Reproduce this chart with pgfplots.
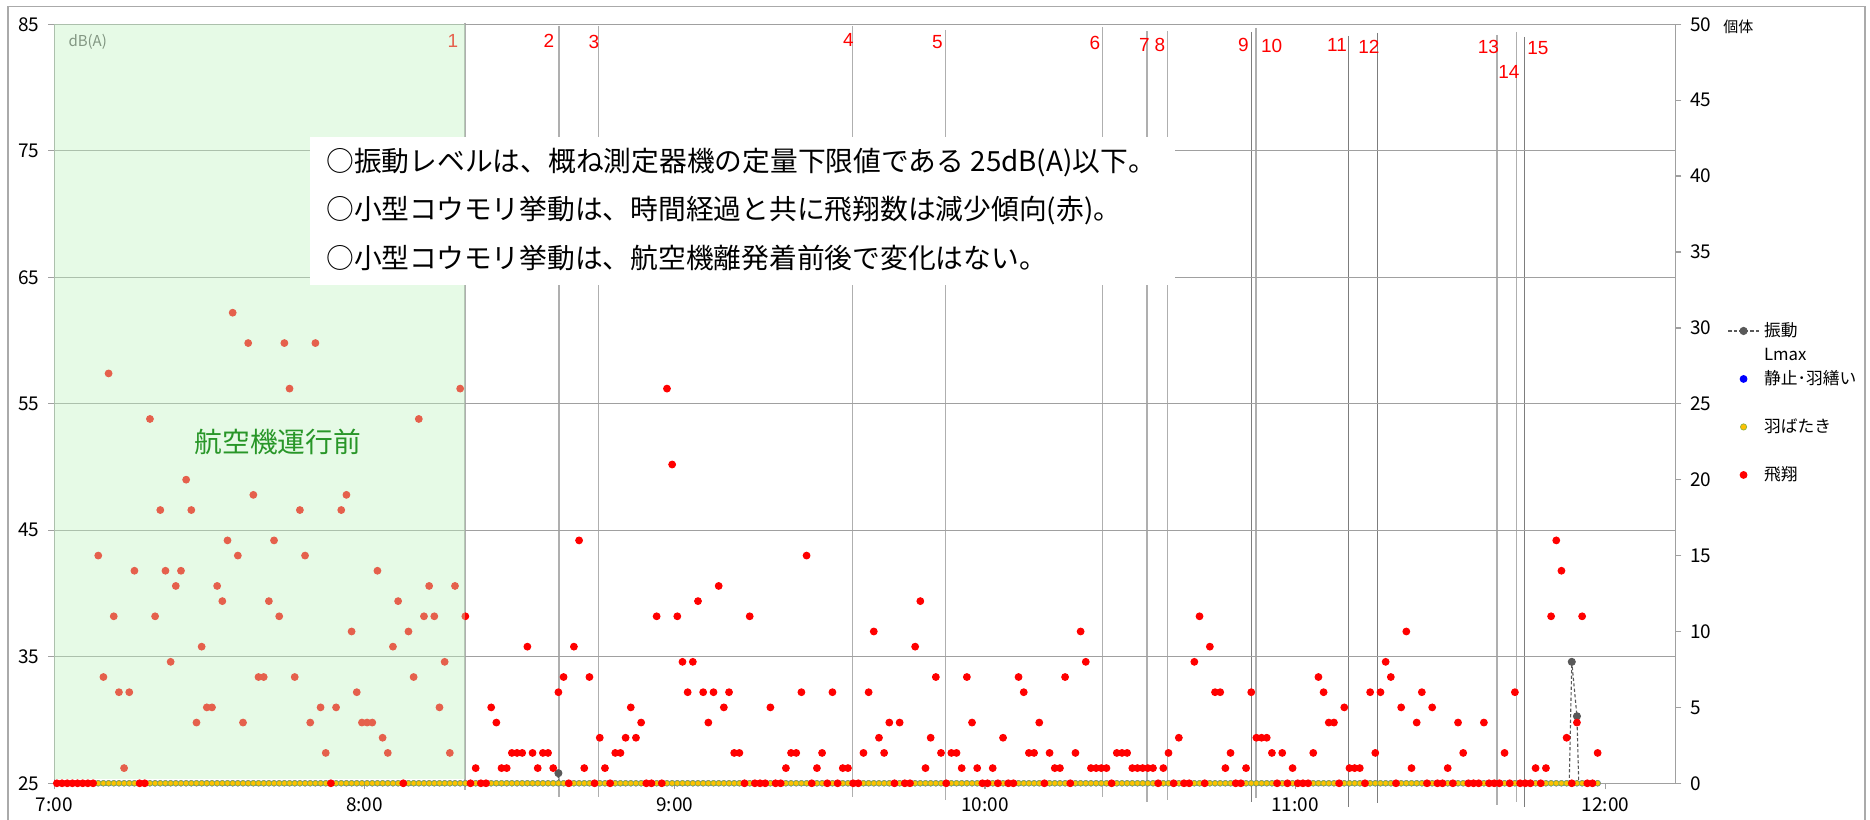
\documentclass[border=0pt]{standalone}
\usepackage{pgfplots}
\pgfplotsset{compat=1.18}
\usepackage{pgfplotstable}
\usepackage{fontspec}
\setmainfont{Noto Sans CJK JP}
\newfontfamily\arialf{Liberation Sans}

\definecolor{cred}{RGB}{255,0,0}
\definecolor{cyel}{RGB}{255,192,0}
\definecolor{cyeledge}{RGB}{150,180,60}
\definecolor{cblue}{RGB}{0,0,255}
\definecolor{clmax}{RGB}{89,89,89}
\definecolor{cgrid}{RGB}{160,160,160}
\definecolor{cevl}{RGB}{175,175,175}
\definecolor{cevd}{RGB}{125,125,125}
\definecolor{cover}{RGB}{192,242,192}
\definecolor{cgtext}{RGB}{40,150,40}
\definecolor{cframe}{RGB}{170,170,170}

\pgfplotsset{
  myleg/.style={legend image code/.code={\draw[mark repeat=2,mark phase=2,##1] plot coordinates {(0pt,0pt) (6.1pt,0pt) (12.2pt,0pt)};}},
}

% minute index (from 7:00), rest (静止・羽繕い), flap (羽ばたき), fly (飛翔)
\pgfplotstableread[row sep=\\]{
m rest flap fly\\
0 0 0 0\\ 1 0 0 0\\ 2 0 0 0\\ 3 0 0 0\\ 4 0 0 0\\ 5 0 0 0\\ 6 0 0 0\\ 7 0 0 0\\ 8 0 0 15\\ 9 0 0 7\\
10 0 0 27\\ 11 0 0 11\\ 12 0 0 6\\ 13 0 0 1\\ 14 0 0 6\\ 15 0 0 14\\ 16 0 0 0\\ 17 0 0 0\\ 18 0 0 24\\ 19 0 0 11\\
20 0 0 18\\ 21 0 0 14\\ 22 0 0 8\\ 23 0 0 13\\ 24 0 0 14\\ 25 0 0 20\\ 26 0 0 18\\ 27 0 0 4\\ 28 0 0 9\\ 29 0 0 5\\
30 0 0 5\\ 31 0 0 13\\ 32 0 0 12\\ 33 0 0 16\\ 34 0 0 31\\ 35 0 0 15\\ 36 0 0 4\\ 37 0 0 29\\ 38 0 0 19\\ 39 0 0 7\\
40 0 0 7\\ 41 0 0 12\\ 42 0 0 16\\ 43 0 0 11\\ 44 0 0 29\\ 45 0 0 26\\ 46 0 0 7\\ 47 0 0 18\\ 48 0 0 15\\ 49 0 0 4\\
50 0 0 29\\ 51 0 0 5\\ 52 0 0 2\\ 53 0 0 0\\ 54 0 0 5\\ 55 0 0 18\\ 56 0 0 19\\ 57 0 0 10\\ 58 0 0 6\\ 59 0 0 4\\
60 0 0 4\\ 61 0 0 4\\ 62 0 0 14\\ 63 0 0 3\\ 64 0 0 2\\ 65 0 0 9\\ 66 0 0 12\\ 67 0 0 0\\ 68 0 0 10\\ 69 0 0 7\\
70 0 0 24\\ 71 0 0 11\\ 72 0 0 13\\ 73 0 0 11\\ 74 0 0 5\\ 75 0 0 8\\ 76 0 0 2\\ 77 0 0 13\\ 78 0 0 26\\ 79 0 0 11\\
80 0 0 0\\ 81 0 0 1\\ 82 0 0 0\\ 83 0 0 0\\ 84 0 0 5\\ 85 0 0 4\\ 86 0 0 1\\ 87 0 0 1\\ 88 0 0 2\\ 89 0 0 2\\
90 0 0 2\\ 91 0 0 9\\ 92 0 0 2\\ 93 0 0 1\\ 94 0 0 2\\ 95 0 0 2\\ 96 0 0 1\\ 97 0 0 6\\ 98 0 0 7\\ 99 0 0 0\\
100 0 0 9\\ 101 0 0 16\\ 102 0 0 1\\ 103 0 0 7\\ 104 0 0 0\\ 105 0 0 3\\ 106 0 0 1\\ 107 0 0 0\\ 108 0 0 2\\ 109 0 0 2\\
110 0 0 3\\ 111 0 0 5\\ 112 0 0 3\\ 113 0 0 4\\ 114 0 0 0\\ 115 0 0 0\\ 116 0 0 11\\ 117 0 0 0\\ 118 0 0 26\\ 119 0 0 21\\
120 0 0 11\\ 121 0 0 8\\ 122 0 0 6\\ 123 0 0 8\\ 124 0 0 12\\ 125 0 0 6\\ 126 0 0 4\\ 127 0 0 6\\ 128 0 0 13\\ 129 0 0 5\\
130 0 0 6\\ 131 0 0 2\\ 132 0 0 2\\ 133 0 0 0\\ 134 0 0 11\\ 135 0 0 0\\ 136 0 0 0\\ 137 0 0 0\\ 138 0 0 5\\ 139 0 0 0\\
140 0 0 0\\ 141 0 0 1\\ 142 0 0 2\\ 143 0 0 2\\ 144 0 0 6\\ 145 0 0 15\\ 146 0 0 0\\ 147 0 0 1\\ 148 0 0 2\\ 149 0 0 0\\
150 0 0 6\\ 151 0 0 0\\ 152 0 0 1\\ 153 0 0 1\\ 154 0 0 0\\ 155 0 0 0\\ 156 0 0 2\\ 157 0 0 6\\ 158 0 0 10\\ 159 0 0 3\\
160 0 0 2\\ 161 0 0 4\\ 162 0 0 0\\ 163 0 0 4\\ 164 0 0 0\\ 165 0 0 0\\ 166 0 0 9\\ 167 0 0 12\\ 168 0 0 1\\ 169 0 0 3\\
170 0 0 7\\ 171 0 0 2\\ 172 0 0 0\\ 173 0 0 2\\ 174 0 0 2\\ 175 0 0 1\\ 176 0 0 7\\ 177 0 0 4\\ 178 0 0 1\\ 179 0 0 0\\
180 0 0 0\\ 181 0 0 1\\ 182 0 0 0\\ 183 0 0 3\\ 184 0 0 0\\ 185 0 0 0\\ 186 0 0 7\\ 187 0 0 6\\ 188 0 0 2\\ 189 0 0 2\\
190 0 0 4\\ 191 0 0 0\\ 192 0 0 2\\ 193 0 0 1\\ 194 0 0 1\\ 195 0 0 7\\ 196 0 0 0\\ 197 0 0 2\\ 198 0 0 10\\ 199 0 0 8\\
200 0 0 1\\ 201 0 0 1\\ 202 0 0 1\\ 203 0 0 1\\ 204 0 0 0\\ 205 0 0 2\\ 206 0 0 2\\ 207 0 0 2\\ 208 0 0 1\\ 209 0 0 1\\
210 0 0 1\\ 211 0 0 1\\ 212 0 0 1\\ 213 0 0 0\\ 214 0 0 1\\ 215 0 0 2\\ 216 0 0 0\\ 217 0 0 3\\ 218 0 0 0\\ 219 0 0 0\\
220 0 0 8\\ 221 0 0 11\\ 222 0 0 0\\ 223 0 0 9\\ 224 0 0 6\\ 225 0 0 6\\ 226 0 0 1\\ 227 0 0 2\\ 228 0 0 0\\ 229 0 0 0\\
230 0 0 1\\ 231 0 0 6\\ 232 0 0 3\\ 233 0 0 3\\ 234 0 0 3\\ 235 0 0 2\\ 236 0 0 0\\ 237 0 0 2\\ 238 0 0 0\\ 239 0 0 1\\
240 0 0 0\\ 241 0 0 0\\ 242 0 0 0\\ 243 0 0 2\\ 244 0 0 7\\ 245 0 0 6\\ 246 0 0 4\\ 247 0 0 4\\ 248 0 0 0\\ 249 0 0 5\\
250 0 0 1\\ 251 0 0 1\\ 252 0 0 1\\ 253 0 0 0\\ 254 0 0 6\\ 255 0 0 2\\ 256 0 0 6\\ 257 0 0 8\\ 258 0 0 7\\ 259 0 0 0\\
260 0 0 5\\ 261 0 0 10\\ 262 0 0 1\\ 263 0 0 4\\ 264 0 0 6\\ 265 0 0 0\\ 266 0 0 5\\ 267 0 0 0\\ 268 0 0 0\\ 269 0 0 1\\
270 0 0 0\\ 271 0 0 4\\ 272 0 0 2\\ 273 0 0 0\\ 274 0 0 0\\ 275 0 0 0\\ 276 0 0 4\\ 277 0 0 0\\ 278 0 0 0\\ 279 0 0 0\\
280 0 0 2\\ 281 0 0 0\\ 282 0 0 6\\ 283 0 0 0\\ 284 0 0 0\\ 285 0 0 0\\ 286 0 0 1\\ 287 0 0 0\\ 288 0 0 1\\ 289 0 0 11\\
290 0 0 16\\ 291 0 0 14\\ 292 0 0 3\\ 293 0 0 0\\ 294 0 0 4\\ 295 0 0 11\\ 296 0 0 0\\ 297 0 0 0\\ 298 0 0 2\\
}\batdata

% 振動 Lmax (dB(A)); values below 25 are under the lower limit
\pgfplotstableread{
m lmax
96 15
97 25.8
98 15
}\lmaxA
\pgfplotstableread{
m lmax
292 15
293 34.6
294 30.3
295 15
}\lmaxB

\begin{document}
\begin{tikzpicture}
\path[use as bounding box] (0pt,0pt) rectangle (748pt,328pt);

\begin{scope}[x=0.4pt,y=-0.4pt,shift={(0pt,328pt)}]
  \draw[cframe, line width=0.5pt] (8,6.3) rectangle (1865,840);
  \foreach \xx/\ya/\yb in {465/22.7/790, 559/26/797, 598.7/26/797, 852.7/26/797, 945.7/30/800, 1102.7/27/797, 1147/31/802, 1167.7/31/800, 1256/28/798, 1497/35/805, 1516.7/32/802}
    \draw[cevl, line width=0.55pt] (\xx,\ya) -- (\xx,\yb);
  \foreach \xx/\ya/\yb in {1251.3/32/802, 1348.7/36/807, 1377.3/33/803, 1524.3/37/807}
    \draw[cevd, line width=0.5pt] (\xx,\ya) -- (\xx,\yb);
\end{scope}

\begin{axis}[
  at={(21.72pt,14.68pt)}, anchor=south west,
  scale only axis, width=648.56pt, height=303.6pt,
  xmin=0, xmax=313.6, ymin=25, ymax=85,
  axis line style={cgrid, line width=0.5pt},
  xtick={0,60,...,300},
  xticklabels={7:00,8:00,9:00,10:00,11:00,12:00},
  ytick={25,35,...,85},
  tick pos=left,
  tick align=outside,
  major tick length=2.4pt,
  tick style={cgrid, line width=0.5pt},
  ymajorgrids,
  grid style={cgrid, line width=0.5pt},
  tick label style={font=\fontsize{7.6}{9}\selectfont, text=black},
  /pgf/number format/assume math mode=true,
]
\addplot[clmax, line width=0.45pt, dash pattern=on 1.3pt off 0.9pt, no marks] table[x expr=\thisrow{m}+0.5, y=lmax] {\lmaxA};
\addplot[clmax, line width=0.45pt, dash pattern=on 1.3pt off 0.9pt, no marks] table[x expr=\thisrow{m}+0.5, y=lmax] {\lmaxB};
\addplot[only marks, mark=*, mark size=1.4pt, clmax, restrict y to domain=25:100] table[x expr=\thisrow{m}+0.5, y=lmax] {\lmaxA};
\addplot[only marks, mark=*, mark size=1.4pt, clmax, restrict y to domain=25:100] table[x expr=\thisrow{m}+0.5, y=lmax] {\lmaxB};
\end{axis}

\begin{axis}[
  at={(21.72pt,14.68pt)}, anchor=south west,
  scale only axis, width=648.56pt, height=303.6pt,
  xmin=0, xmax=313.6, ymin=0, ymax=50,
  axis x line=none,
  axis y line*=right,
  axis line style={-, cgrid, line width=0.5pt},
  ytick={0,5,...,50},
  tick align=outside, major tick length=2.3pt,
  tick style={cgrid, line width=0.5pt},
  tick label style={font=\fontsize{7.6}{9}\selectfont, text=black},
  /pgf/number format/assume math mode=true,
  clip=false,
  legend cell align=left,
  legend style={at={(axis description cs:1.0321,0.6088)}, anchor=north west,
    draw=none, fill=none, inner sep=0pt, outer sep=0pt,
    row sep=1.8pt, column sep=1.9pt,
    font=\fontsize{6.7}{8}\selectfont,
    nodes={inner sep=0pt, text height=6pt, text depth=1.8pt}},
]
\addplot[only marks, mark=*, mark size=1.05pt, color=cblue, forget plot] table[x expr=\thisrow{m}+0.5, y=rest] {\batdata};
\addplot[only marks, mark=*, mark size=1.1pt, mark options={fill=cyel, draw=cyeledge, line width=0.3pt}, forget plot] table[x expr=\thisrow{m}+0.5, y=flap] {\batdata};
\addplot[only marks, mark=*, mark size=1.35pt, color=cred, forget plot] table[x expr=\thisrow{m}+0.5, y=fly] {\batdata};

\addlegendimage{clmax, line width=0.45pt, dash pattern=on 1.3pt off 0.9pt, mark=*, mark size=1.4pt, mark options={solid}, myleg}
\addlegendentry{振動}
\addlegendimage{empty legend}
\addlegendentry{Lmax}
\addlegendimage{only marks, mark=*, mark size=1.35pt, color=cblue, myleg}
\addlegendentry{静止･羽繕い}
\addlegendimage{empty legend}
\addlegendentry{\mbox{}}
\addlegendimage{only marks, mark=*, mark size=1.25pt, mark options={fill=cyel, draw=cyeledge, line width=0.3pt}, myleg}
\addlegendentry{羽ばたき}
\addlegendimage{empty legend}
\addlegendentry{\mbox{}}
\addlegendimage{only marks, mark=*, mark size=1.35pt, color=cred, myleg}
\addlegendentry{飛翔}
\end{axis}

\begin{scope}[x=0.4pt,y=-0.4pt,shift={(0pt,328pt)}]
  \node[anchor=west, inner sep=0pt, text=clmax, font=\fontsize{6}{7}\selectfont] at (68,42) {dB(A)};
  \foreach \xx/\yy/\lab in {453/41/1, 549/40.5/2, 594/42/3, 848.5/40/4, 937.5/42.5/5, 1095/43/6, 1144.5/45/7, 1160/45/8, 1243.3/45/9, 1271.7/46/10, 1337/45/11, 1369/47/12, 1488.5/47/13, 1509/72/14, 1538/48/15}
    \node[text=cred, font=\arialf\fontsize{7.6}{9}\selectfont, inner sep=0pt] at (\xx,\yy) {\lab};
  \fill[cover, fill opacity=0.4] (54.3,24.3) rectangle (465,779.3);
  \fill[white] (310,137) rectangle (1175,285);
  \node[anchor=west, inner sep=0pt, font=\fontsize{11.1}{13}\selectfont] at (326,163) {○振動レベルは、概ね測定器機の定量下限値である 25dB(A)以下。};
  \node[anchor=west, inner sep=0pt, font=\fontsize{11.1}{13}\selectfont] at (326,211) {○小型コウモリ挙動は、時間経過と共に飛翔数は減少傾向(赤)。};
  \node[anchor=west, inner sep=0pt, font=\fontsize{11.1}{13}\selectfont] at (326,258) {○小型コウモリ挙動は、航空機離発着前後で変化はない。};
  \node[text=cgtext, inner sep=0pt, font=\fontsize{11.1}{13}\selectfont] at (278,442) {航空機運行前};
  \node[anchor=west, inner sep=0pt, font=\fontsize{6}{7}\selectfont] at (1723,27) {個体};
\end{scope}
\end{tikzpicture}
\end{document}
